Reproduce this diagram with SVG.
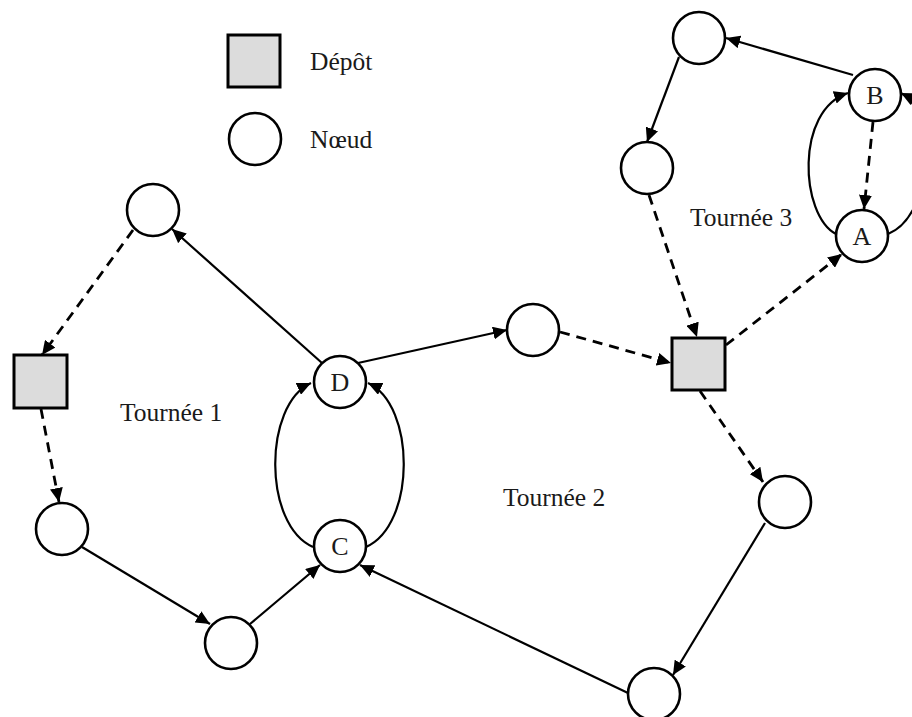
<svg xmlns="http://www.w3.org/2000/svg" width="912" height="717" viewBox="0 0 912 717">
<style>
.node{fill:#fff;stroke:#000;stroke-width:2.6}
.depot{fill:#dcdcdc;stroke:#000;stroke-width:3}
.lbl{font-family:"Liberation Serif",serif;font-size:25.5px;fill:#1a1a1a}
.nl{font-family:"Liberation Serif",serif;font-size:26px;fill:#1a1a1a;text-anchor:middle;dominant-baseline:central}
.s{fill:none;stroke:#000;stroke-width:2.2;marker-end:url(#ah)}
.d{fill:none;stroke:#000;stroke-width:2.8;stroke-dasharray:10 7;marker-end:url(#ah)}
</style>
<defs>
<marker id="ah" markerUnits="userSpaceOnUse" markerWidth="15" markerHeight="13" refX="14" refY="6.5" orient="auto">
<path d="M0,0 L14,6.5 L0,13 z" fill="#000"/>
</marker>
</defs>
<g id="legend">
<rect class="depot" x="228" y="35" width="52" height="52"/>
<text class="lbl" x="310" y="70">Dépôt</text>
<circle class="node" cx="255" cy="139" r="26"/>
<text class="lbl" x="310" y="148">Nœud</text>
</g>
<g id="labels">
<text class="lbl" x="120" y="421">Tournée 1</text>
<text class="lbl" x="503" y="506">Tournée 2</text>
<text class="lbl" x="690" y="226">Tournée 3</text>
</g>
<g id="connectors">
<line class="s" x1="322" y1="363" x2="172" y2="229"/>
<line class="d" x1="133" y1="230" x2="42" y2="355"/>
<line class="d" x1="41" y1="409" x2="59" y2="502"/>
<line class="s" x1="82" y1="547" x2="210" y2="624"/>
<line class="s" x1="250" y1="624" x2="320" y2="565"/>
<path class="s" d="M313,547 C263,525 263,405 311,383"/>
<path class="s" d="M366,547 C416,525 416,405 368,383"/>
<line class="s" x1="358" y1="363" x2="507" y2="330"/>
<line class="d" x1="560" y1="332" x2="671" y2="363"/>
<line class="d" x1="649" y1="195" x2="697" y2="337"/>
<line class="d" x1="726" y1="345" x2="842" y2="254"/>
<line class="d" x1="873" y1="122" x2="864" y2="209"/>
<path class="s" d="M836,234 C800,215 795,110 848,93"/>
<path class="s" d="M888,234 C935,215 935,110 901,93"/>
<line class="s" x1="853" y1="75" x2="726" y2="38"/>
<line class="s" x1="679" y1="57" x2="647" y2="142"/>
<line class="d" x1="700" y1="391" x2="763" y2="482"/>
<line class="s" x1="765" y1="523" x2="673" y2="675"/>
<line class="s" x1="628" y1="693" x2="360" y2="565"/>
</g>
<g id="depot1"><rect class="depot" x="14" y="355" width="53" height="53"/></g>
<g id="depot2"><rect class="depot" x="672" y="338" width="53" height="52"/></g>
<g id="n1"><circle class="node" cx="153" cy="210" r="26"/></g>
<g id="n2"><circle class="node" cx="62" cy="529" r="26"/></g>
<g id="n3"><circle class="node" cx="231" cy="643" r="26"/></g>
<g id="C"><circle class="node" cx="340" cy="546" r="26"/><text class="nl" x="340" y="546">C</text></g>
<g id="D"><circle class="node" cx="340" cy="382" r="26"/><text class="nl" x="340" y="382">D</text></g>
<g id="n4"><circle class="node" cx="533" cy="330" r="26"/></g>
<g id="n5"><circle class="node" cx="785" cy="502" r="26"/></g>
<g id="n6"><circle class="node" cx="654" cy="694" r="26"/></g>
<g id="n7"><circle class="node" cx="699" cy="38" r="26"/></g>
<g id="n8"><circle class="node" cx="647" cy="168" r="26"/></g>
<g id="B"><circle class="node" cx="875" cy="95" r="26"/><text class="nl" x="875" y="95">B</text></g>
<g id="A"><circle class="node" cx="862" cy="236" r="26"/><text class="nl" x="862" y="236">A</text></g>
</svg>
